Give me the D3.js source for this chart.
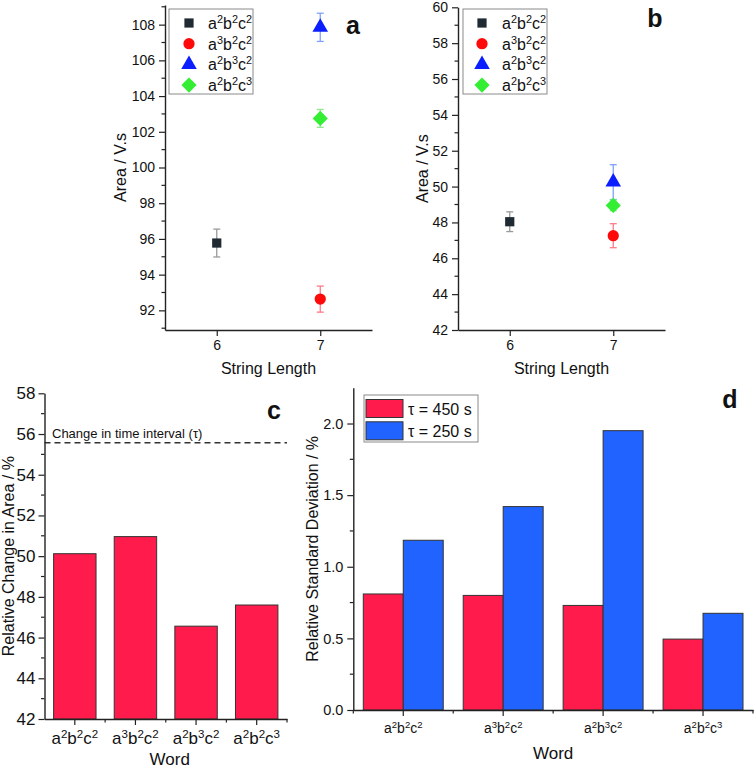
<!DOCTYPE html>
<html><head><meta charset="utf-8">
<script src="https://cdn.jsdelivr.net/npm/d3@7"></script>
<style>
html,body{margin:0;padding:0;background:#fff;}
svg{display:block;font-family:"Liberation Sans",Arial,sans-serif;}
</style></head>
<body><svg id="c" width="756" height="769"></svg>
<script>
// ---------- data ----------
const seriesNames = ["a²b²c²", "a³b²c²", "a²b³c²", "a²b²c³"];
const seriesX = [6, 7, 7, 7];
const aValues = [95.77, 92.63, 107.85, 102.75];
const aErrors = [0.78, 0.73, 0.79, 0.5];
const bValues = [48.04, 47.26, 50.25, 48.95];
const bErrors = [0.55, 0.67, 0.97, 0.3];
const stringTicks = [6, 7];
const aYTicks = [92, 94, 96, 98, 100, 102, 104, 106, 108];
const bYTicks = [42, 44, 46, 48, 50, 52, 54, 56, 58, 60];
const cValues = [50.12, 50.96, 46.56, 47.6];
const cReference = 55.57;
const cYTicks = [42, 44, 46, 48, 50, 52, 54, 56, 58];
const d450 = [0.81, 0.80, 0.73, 0.495];
const d250 = [1.185, 1.42, 1.95, 0.675];
const dYTicks = [0.0, 0.5, 1.0, 1.5, 2.0];
const dSeries = ["τ = 450 s", "τ = 250 s"];

const markerColors = ["#1f2a33", "#ff0a0a", "#0a1eff", "#33ee33"];
const errColors = ["#9a9a9a", "#ff7a88", "#80a0ff", "#8ee88e"];
const RED = "#ff1b4b", BLUE = "#2163ff";
const AX = "#222";

// diamond as a square rotated 45 degrees
const diamondSym = { draw(ctx, size) { const r = Math.sqrt(size / 2); ctx.moveTo(0, -r); ctx.lineTo(r, 0); ctx.lineTo(0, r); ctx.lineTo(-r, 0); ctx.closePath(); } };
const markerShapes = [d3.symbolSquare, d3.symbolCircle, d3.symbolTriangle, diamondSym];
const markerSizes = [85, 100, 105, 115];

const svg = d3.select("#c");

// render "a²b²c²" with real superscript tspans
function supText(sel, fs) {
  sel.each(function () {
    const t = d3.select(this);
    const s = t.text();
    t.text(null);
    let raised = false;
    for (const ch of s) {
      if (ch === "²" || ch === "³") {
        const sp = t.append("tspan").attr("font-size", fs * 0.68).text(ch === "²" ? "2" : "3");
        if (!raised) sp.attr("dy", -fs * 0.38);
        raised = true;
      } else {
        const sp = t.append("tspan").text(ch);
        if (raised) sp.attr("dy", fs * 0.38);
        raised = false;
      }
    }
  });
}

function styleAxis(g, fs) {
  g.select(".domain").attr("stroke", AX).attr("stroke-width", 1.4);
  g.selectAll(".tick line").attr("stroke", AX).attr("stroke-width", 1.2);
  g.selectAll(".tick text").attr("fill", "#111").attr("font-size", fs).attr("font-family", null);
}
function minorLeft(g, scale, vals, x) {
  g.append("g").attr("transform", `translate(${x},0)`)
    .selectAll("line").data(vals).join("line")
    .attr("x1", 0).attr("x2", -3.5).attr("y1", d => scale(d)).attr("y2", d => scale(d))
    .attr("stroke", AX).attr("stroke-width", 1.2);
}
function minorBottom(g, xs, y) {
  g.append("g").selectAll("line").data(xs).join("line")
    .attr("x1", d => d).attr("x2", d => d).attr("y1", y).attr("y2", y + 3.5)
    .attr("stroke", AX).attr("stroke-width", 1.2);
}

// ---------- scatter panels ----------
function scatterPanel(o) {
  const g = svg.append("g");
  const x = d3.scaleLinear().domain([5.5, 7.5]).range([o.x0, o.x1]);
  const y = d3.scaleLinear().domain(o.yDomain).range([o.y0, o.y1]);
  const gx = g.append("g").attr("transform", `translate(0,${o.y0})`)
    .call(d3.axisBottom(x).tickValues(stringTicks).tickSize(6).tickSizeOuter(0).tickPadding(4).tickFormat(d3.format("d")));
  styleAxis(gx, 14);
  const gy = g.append("g").attr("transform", `translate(${o.x0},0)`)
    .call(d3.axisLeft(y).tickValues(o.yTicks).tickSize(6).tickSizeOuter(0).tickPadding(4).tickFormat(d3.format("d")));
  styleAxis(gy, 14);
  const minors = d3.range(Math.ceil(o.yDomain[0]), o.yDomain[1] + 0.001, 1).filter(v => o.yTicks.indexOf(v) < 0);
  minorLeft(g, y, minors, o.x0);

  g.append("text").attr("x", (o.x0 + o.x1) / 2).attr("y", 374).attr("text-anchor", "middle")
    .attr("font-size", 16).attr("fill", "#111").text("String Length");
  g.append("text").attr("transform", `translate(${o.labX},${(o.y0 + o.y1) / 2}) rotate(-90)`)
    .attr("text-anchor", "middle").attr("dominant-baseline", "central")
    .attr("font-size", 16).attr("fill", "#111").text("Area / V.s");

  // error bars
  const eb = g.append("g");
  o.values.forEach((v, i) => {
    const cx = x(seriesX[i]), t = y(v + o.errors[i]), b = y(v - o.errors[i]);
    eb.append("line").attr("x1", cx).attr("x2", cx).attr("y1", t).attr("y2", b).attr("stroke", errColors[i]).attr("stroke-width", 1.3);
    [t, b].forEach(yy => eb.append("line").attr("x1", cx - 3.5).attr("x2", cx + 3.5).attr("y1", yy).attr("y2", yy).attr("stroke", errColors[i]).attr("stroke-width", 1.3));
  });
  o.values.forEach((v, i) => {
    g.append("path").attr("d", d3.symbol().type(markerShapes[i]).size(markerSizes[i])())
      .attr("transform", `translate(${x(seriesX[i])},${y(v)})`).attr("fill", markerColors[i]);
  });

  // legend
  const L = o.legend;
  g.append("rect").attr("x", L.x).attr("y", L.y).attr("width", L.w).attr("height", L.h)
    .attr("fill", "#fff").attr("stroke", "#8a8a8a").attr("stroke-width", 1);
  seriesNames.forEach((n, i) => {
    const yy = L.y + 14 + i * 20.7;
    g.append("path").attr("d", d3.symbol().type(markerShapes[i]).size(markerSizes[i])())
      .attr("transform", `translate(${L.sx},${yy})`).attr("fill", markerColors[i]);
    g.append("text").attr("x", L.tx).attr("y", yy + 6).attr("font-size", 16).attr("fill", "#111").text(n)
      .call(supText, 16);
  });
  g.append("text").attr("x", o.tag[0]).attr("y", o.tag[1]).attr("text-anchor", "middle").attr("dominant-baseline", "central")
    .attr("font-size", 25).attr("font-weight", "bold").attr("fill", "#111").text(o.tag[2]);
}

scatterPanel({x0: 165, x1: 372, y0: 330, y1: 5, yDomain: [90.9, 109.1], yTicks: aYTicks,
  values: aValues, errors: aErrors, labX: 120,
  legend: {x: 169, y: 9, w: 84, h: 85, sx: 189, tx: 208}, tag: [353, 25, "a"]});
scatterPanel({x0: 458, x1: 665, y0: 330, y1: 7.3, yDomain: [42, 60], yTicks: bYTicks,
  values: bValues, errors: bErrors, labX: 422,
  legend: {x: 463, y: 9, w: 84, h: 85, sx: 482, tx: 502}, tag: [655, 18, "b"]});

// ---------- panel c ----------
(function () {
  const g = svg.append("g");
  const x0 = 44.5, x1 = 287, y0 = 719, y1 = 393.3;
  const x = d3.scaleBand().domain(seriesNames).range([x0, x1]).paddingInner(0.3).paddingOuter(0.15);
  const y = d3.scaleLinear().domain([42, 58]).range([y0, y1]);
  g.append("g").selectAll("rect").data(cValues).join("rect")
    .attr("x", (d, i) => x(seriesNames[i])).attr("width", x.bandwidth())
    .attr("y", d => y(d)).attr("height", d => y0 - y(d))
    .attr("fill", RED).attr("stroke", "#333").attr("stroke-width", 1);
  g.append("line").attr("x1", x0).attr("x2", x1).attr("y1", y(cReference)).attr("y2", y(cReference))
    .attr("stroke", "#333").attr("stroke-width", 1.5).attr("stroke-dasharray", "6,4");
  g.append("text").attr("x", 52).attr("y", y(cReference) - 5).attr("font-size", 13).attr("fill", "#111")
    .text("Change in time interval (τ)");
  const gx = g.append("g").attr("transform", `translate(0,${y0})`)
    .call(d3.axisBottom(x).tickSize(6).tickSizeOuter(0).tickPadding(6));
  styleAxis(gx, 17);
  gx.selectAll(".tick text").attr("dy", null).attr("y", 25).call(supText, 17);
  const step = (x1 - x0) / 4;
  minorBottom(g, [1, 2, 3, 4].map(k => x0 + k * step), y0);
  const gy = g.append("g").attr("transform", `translate(${x0},0)`)
    .call(d3.axisLeft(y).tickValues(cYTicks).tickSize(6).tickSizeOuter(0).tickPadding(3).tickFormat(d3.format("d")));
  styleAxis(gy, 17);
  minorLeft(g, y, d3.range(43, 58, 2), x0);
  g.append("text").attr("x", (x0 + x1) / 2 + 4).attr("y", 765).attr("text-anchor", "middle")
    .attr("font-size", 17).attr("fill", "#111").text("Word");
  g.append("text").attr("transform", `translate(8,${(y0 + y1) / 2}) rotate(-90)`)
    .attr("text-anchor", "middle").attr("dominant-baseline", "central")
    .attr("font-size", 16).attr("fill", "#111").text("Relative Change in Area / %");
  g.append("text").attr("x", 274).attr("y", 410).attr("text-anchor", "middle").attr("dominant-baseline", "central")
    .attr("font-size", 25).attr("font-weight", "bold").attr("fill", "#111").text("c");
})();

// ---------- panel d ----------
(function () {
  const g = svg.append("g");
  const x0 = 353.3, x1 = 753, y0 = 710, y1 = 387.7;
  const x = d3.scaleBand().domain(seriesNames).range([x0, x1]).paddingInner(0.2).paddingOuter(0.1);
  const sub = d3.scaleBand().domain(dSeries).range([0, x.bandwidth()]);
  const y = d3.scaleLinear().domain([0, 2.25]).range([y0, y1]);
  const rows = seriesNames.map((n, i) => ({n, vals: [d450[i], d250[i]]}));
  const grp = g.append("g").selectAll("g").data(rows).join("g").attr("transform", d => `translate(${x(d.n)},0)`);
  grp.selectAll("rect").data(d => d.vals.map((v, j) => ({v, s: dSeries[j], j}))).join("rect")
    .attr("x", d => sub(d.s)).attr("width", sub.bandwidth())
    .attr("y", d => y(d.v)).attr("height", d => y0 - y(d.v))
    .attr("fill", d => d.j === 0 ? RED : BLUE).attr("stroke", "#333").attr("stroke-width", 1);
  const gx = g.append("g").attr("transform", `translate(0,${y0})`)
    .call(d3.axisBottom(x).tickSize(6).tickSizeOuter(0).tickPadding(6));
  styleAxis(gx, 14);
  gx.selectAll(".tick text").attr("dy", null).attr("y", 23).call(supText, 14);
  const step = (x1 - x0) / 4;
  minorBottom(g, [0, 1, 2, 3, 4].map(k => x0 + k * step), y0);
  const gy = g.append("g").attr("transform", `translate(${x0},0)`)
    .call(d3.axisLeft(y).tickValues(dYTicks).tickSize(6).tickSizeOuter(0).tickPadding(4).tickFormat(d3.format(".1f")));
  styleAxis(gy, 14.5);
  minorLeft(g, y, [0.25, 0.75, 1.25, 1.75], x0);
  g.append("text").attr("x", (x0 + x1) / 2).attr("y", 759).attr("text-anchor", "middle")
    .attr("font-size", 17).attr("fill", "#111").text("Word");
  g.append("text").attr("transform", `translate(312,${(y0 + y1) / 2}) rotate(-90)`)
    .attr("text-anchor", "middle").attr("dominant-baseline", "central")
    .attr("font-size", 16).attr("fill", "#111").text("Relative Standard Deviation / %");
  // legend
  g.append("rect").attr("x", 364).attr("y", 395).attr("width", 114).attr("height", 47)
    .attr("fill", "#fff").attr("stroke", "#8a8a8a").attr("stroke-width", 1);
  dSeries.forEach((s, j) => {
    const yy = 399.5 + j * 22.3;
    g.append("rect").attr("x", 366).attr("y", yy).attr("width", 37).attr("height", 18)
      .attr("fill", j === 0 ? RED : BLUE).attr("stroke", "#333").attr("stroke-width", 1);
    g.append("text").attr("x", 408).attr("y", yy + 9.5).attr("dominant-baseline", "central")
      .attr("font-size", 16).attr("fill", "#111").text(s);
  });
  g.append("text").attr("x", 730).attr("y", 399).attr("text-anchor", "middle").attr("dominant-baseline", "central")
    .attr("font-size", 25).attr("font-weight", "bold").attr("fill", "#111").text("d");
})();
</script></body></html>
